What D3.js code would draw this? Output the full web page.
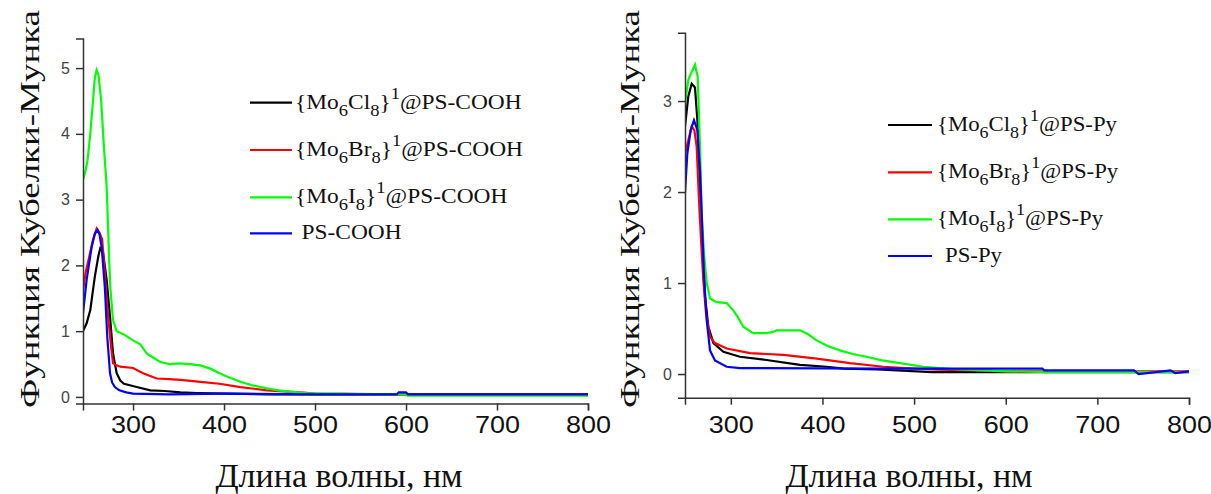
<!DOCTYPE html>
<html>
<head>
<meta charset="utf-8">
<script src="https://cdn.jsdelivr.net/npm/d3@7"></script>
<style>
  html, body { margin: 0; padding: 0; background: #fff; }
  svg { display: block; }
</style>
</head>
<body>
<svg id="chart" width="1211" height="494"></svg>
<script>
// ---------------- DATA ----------------
const xTicksMajor = [300, 400, 500, 600, 700, 800];
const xTicksMinor = [250, 350, 450, 550, 650, 750];
const yTicksLeft = [0, 1, 2, 3, 4, 5];
const yTicksRight = [0, 1, 2, 3];
const xTitle = "Длина волны, нм";
const yTitle = "Функция Кубелки-Мунка";

// Left panel: PS-COOH
const wlCl_COOH = [245, 249, 253, 258, 262, 264, 267, 271, 275, 278, 282, 286, 290, 304, 319, 335, 352, 370, 403, 450, 500, 600, 700, 800];
const valCl_COOH = [1.0, 1.12, 1.32, 1.83, 2.15, 2.26, 2.2, 1.78, 1.17, 0.66, 0.36, 0.25, 0.2, 0.15, 0.1, 0.09, 0.07, 0.06, 0.05, 0.04, 0.04, 0.04, 0.04, 0.04];
const wlBr_COOH = [245, 248, 251, 256, 260, 263, 266, 269, 271, 273, 276, 278, 282, 286, 300, 311, 326, 340, 352, 374, 395, 418, 447, 484, 500, 600, 700, 800];
const valBr_COOH = [1.62, 1.9, 2.08, 2.39, 2.56, 2.5, 2.4, 1.88, 1.5, 1.17, 0.75, 0.51, 0.48, 0.46, 0.44, 0.36, 0.28, 0.27, 0.26, 0.23, 0.2, 0.15, 0.1, 0.07, 0.05, 0.04, 0.04, 0.04];
const wlI_COOH = [245, 248, 250, 253, 256, 258, 260, 262, 265, 268, 271, 274, 275, 278, 282, 290, 300, 308, 315, 322, 330, 340, 352, 362, 374, 385, 395, 405, 418, 430, 447, 460, 472, 490, 510, 530, 560, 600, 602, 650, 700, 750, 800];
const valI_COOH = [3.3, 3.45, 3.6, 4.0, 4.5, 4.85, 4.97, 4.9, 4.5, 3.8, 3.2, 2.0, 1.67, 1.17, 1.0, 0.95, 0.86, 0.8, 0.66, 0.6, 0.53, 0.5, 0.51, 0.5, 0.48, 0.43, 0.36, 0.3, 0.23, 0.18, 0.13, 0.1, 0.08, 0.06, 0.05, 0.05, 0.04, 0.04, 0.02, 0.02, 0.02, 0.02, 0.02];
const wlPS_COOH = [245, 249, 254.5, 258, 261, 263, 265.5, 269, 271.7, 274.7, 277, 280, 285, 292.5, 300, 340, 400, 500, 590, 592, 600, 602, 700, 800];
const valPS_COOH = [1.27, 1.78, 2.28, 2.48, 2.54, 2.48, 2.28, 1.67, 0.91, 0.36, 0.22, 0.15, 0.1, 0.07, 0.05, 0.04, 0.05, 0.04, 0.04, 0.07, 0.07, 0.04, 0.04, 0.04];

// Right panel: PS-Py
const wlCl_Py = [250, 253.6, 257.3, 260.9, 263.5, 266.4, 269.3, 271.8, 275.5, 281, 291.9, 310, 339, 375.5, 404.6, 422.8, 460, 520, 600, 700, 800];
const valCl_Py = [2.72, 3.05, 3.19, 3.15, 2.79, 2.06, 1.32, 0.85, 0.52, 0.34, 0.245, 0.19, 0.154, 0.1, 0.08, 0.06, 0.05, 0.02, 0.02, 0.02, 0.02];
const wlBr_Py = [250, 253.6, 257.3, 260.2, 262.7, 265.6, 267.5, 270, 272.9, 277.3, 282.7, 295.5, 321, 357.4, 393.7, 430, 466.5, 520, 600, 700, 800];
const valBr_Py = [2.42, 2.57, 2.72, 2.68, 2.5, 1.84, 1.47, 1.03, 0.67, 0.41, 0.34, 0.28, 0.23, 0.21, 0.17, 0.12, 0.08, 0.05, 0.03, 0.03, 0.03];
const wlI_Py = [250, 253.6, 257.3, 260.9, 263.8, 266.4, 268.2, 270.7, 273.7, 277.3, 284.6, 295.5, 302.7, 308, 313.6, 324.5, 339, 345, 350, 375.5, 384, 393.7, 405, 419, 433, 448, 465, 484.6, 510, 550, 600, 650, 700, 750, 800];
const valI_Py = [2.97, 3.23, 3.32, 3.40, 3.27, 2.5, 1.77, 1.33, 1.0, 0.83, 0.79, 0.78, 0.70, 0.62, 0.52, 0.45, 0.45, 0.46, 0.48, 0.48, 0.44, 0.37, 0.31, 0.26, 0.22, 0.19, 0.15, 0.12, 0.08, 0.05, 0.03, 0.02, 0.02, 0.02, 0.02];
const wlPS_Py = [250, 252.5, 256.2, 259.8, 263.5, 266.4, 268.5, 270.7, 273.7, 277.3, 282.7, 295.5, 310, 460, 640, 642, 740, 745, 780, 785, 800];
const valPS_Py = [1.99, 2.42, 2.68, 2.79, 2.68, 2.24, 1.69, 1.1, 0.59, 0.26, 0.15, 0.08, 0.065, 0.06, 0.06, 0.04, 0.04, 0.0, 0.04, 0.01, 0.03];

const seriesColors = ["#000000", "#ff0000", "#00ff00", "#0000ff"];
const legendLeft = [
  {pre: "{Mo", s1: "6", mid: "Cl", s2: "8", sup: "1", post: "@PS-COOH"},
  {pre: "{Mo", s1: "6", mid: "Br", s2: "8", sup: "1", post: "@PS-COOH"},
  {pre: "{Mo", s1: "6", mid: "I", s2: "8", sup: "1", post: "@PS-COOH"},
  {plain: "PS-COOH"}
];
const legendRight = [
  {pre: "{Mo", s1: "6", mid: "Cl", s2: "8", sup: "1", post: "@PS-Py"},
  {pre: "{Mo", s1: "6", mid: "Br", s2: "8", sup: "1", post: "@PS-Py"},
  {pre: "{Mo", s1: "6", mid: "I", s2: "8", sup: "1", post: "@PS-Py"},
  {plain: "PS-Py"}
];

// ---------------- DRAW ----------------
const svg = d3.select("#chart");
svg.append("rect").attr("width", 1211).attr("height", 494).attr("fill", "#fff");

function zip(wl, val) { return wl.map((w, i) => [w, val[i]]); }

function panel(opt) {
  const x = d3.scaleLinear().domain(opt.xDomain).range([opt.x0, opt.x1]);
  const y = d3.scaleLinear().domain(opt.yDomain).range([opt.yBottom, opt.yTop]);
  const g = svg.append("g");

  const clipId = "clip" + opt.id;
  svg.append("clipPath").attr("id", clipId).append("rect")
    .attr("x", opt.x0).attr("y", opt.yTop - 5).attr("width", opt.x1 - opt.x0 + 2).attr("height", opt.yBottom - opt.yTop + 5);

  const line = d3.line().x(d => x(d[0])).y(d => y(d[1]));
  opt.series.forEach((s, i) => {
    g.append("path").datum(s).attr("d", line)
      .attr("fill", "none").attr("stroke", seriesColors[i]).attr("stroke-width", 2.2)
      .attr("stroke-linejoin", "miter").attr("clip-path", `url(#${clipId})`);
  });

  const yMinor = d3.range(Math.ceil(opt.yDomain[0] * 5), Math.floor(opt.yDomain[1] * 5) + 1).map(v => v / 5)
    .filter(v => Math.abs(v - Math.round(v)) > 1e-6);
  const ga = g.append("g").attr("transform", `translate(${opt.x0},0)`);
  ga.call(d3.axisLeft(y).tickValues(yMinor).tickSize(4).tickFormat(""));
  ga.call(d3.axisLeft(y).tickValues(opt.yTicks).tickSize(7).tickPadding(6).tickFormat(d3.format("d")));
  ga.selectAll("path").attr("stroke", "#333").attr("stroke-width", 1.5);
  ga.selectAll("line").attr("stroke", "#333").attr("stroke-width", 1.5);
  ga.selectAll("text").attr("font-family", "Liberation Sans, Arial, sans-serif").attr("font-size", 16).attr("fill", "#444");

  const gx = g.append("g").attr("transform", `translate(0,${opt.yBottom})`);
  gx.call(d3.axisBottom(x).tickValues(xTicksMinor).tickSize(4).tickFormat(""));
  gx.call(d3.axisBottom(x).tickValues(xTicksMajor).tickSize(7).tickPadding(opt.xPad).tickFormat(d3.format("d")));
  gx.selectAll("path").attr("stroke", "#333").attr("stroke-width", 1.5);
  gx.selectAll("line").attr("stroke", "#333").attr("stroke-width", 1.5);
  gx.selectAll("text").attr("font-family", "Liberation Sans, Arial, sans-serif").attr("font-size", 24).attr("fill", "#111")
    .attr("textLength", 45).attr("lengthAdjust", "spacingAndGlyphs");

  svg.append("text").attr("x", opt.xTitleX).attr("y", 487).attr("text-anchor", "middle")
    .attr("font-family", "Liberation Serif, Times New Roman, serif").attr("font-size", 34).attr("fill", "#111")
    .text(xTitle);
  svg.append("text").attr("transform", `translate(${opt.yTitleX},${opt.yTitleY}) rotate(-90)`).attr("text-anchor", "middle")
    .attr("font-family", "Liberation Serif, Times New Roman, serif").attr("font-size", 27).attr("fill", "#111")
    .attr("textLength", 398).attr("lengthAdjust", "spacingAndGlyphs")
    .text(yTitle);

  opt.legend.forEach((L, i) => {
    const ly = opt.legendY[i];
    svg.append("line").attr("x1", opt.legX0).attr("x2", opt.legX1).attr("y1", ly).attr("y2", ly)
      .attr("stroke", seriesColors[i]).attr("stroke-width", 2.2);
    const tx = opt.legTextX + (L.plain ? opt.plainOffset : 0);
    const t = svg.append("text").attr("transform", `translate(${tx},${ly + 6}) scale(${opt.legScale},1)`)
      .attr("font-family", "Liberation Serif, Times New Roman, serif").attr("font-size", 21.5).attr("fill", "#111");
    if (L.plain) { t.text(L.plain); return; }
    t.append("tspan").text(L.pre);
    t.append("tspan").attr("font-size", 17).attr("dy", 7).text(L.s1);
    t.append("tspan").attr("dy", -7).text(L.mid);
    t.append("tspan").attr("font-size", 17).attr("dy", 7).text(L.s2);
    t.append("tspan").attr("dy", -7).text("}");
    t.append("tspan").attr("font-size", 17).attr("dy", -10).text(L.sup);
    t.append("tspan").attr("dy", 10).text(L.post);
  });
}

panel({
  id: "L", xDomain: [245, 800], yDomain: [-0.1, 5.45], x0: 83, x1: 588, yBottom: 403.5, yTop: 38.5,
  yTicks: yTicksLeft, xPad: 5,
  series: [zip(wlCl_COOH, valCl_COOH), zip(wlBr_COOH, valBr_COOH), zip(wlI_COOH, valI_COOH), zip(wlPS_COOH, valPS_COOH)],
  xTitleX: 339, yTitleX: 39, yTitleY: 209,
  legend: legendLeft, legendY: [102.7, 150, 197.3, 233.3], legX0: 250, legX1: 292, legTextX: 295, plainOffset: 6.5, legScale: 1.09
});
panel({
  id: "R", xDomain: [250, 800], yDomain: [-0.26, 3.75], x0: 685, x1: 1189, yBottom: 397.7, yTop: 32.8,
  yTicks: yTicksRight, xPad: 11,
  series: [zip(wlCl_Py, valCl_Py), zip(wlBr_Py, valBr_Py), zip(wlI_Py, valI_Py), zip(wlPS_Py, valPS_Py)],
  xTitleX: 909, yTitleX: 639, yTitleY: 209,
  legend: legendRight, legendY: [125, 172.3, 219.3, 256], legX0: 888, legX1: 932, legTextX: 937, plainOffset: 8, legScale: 1.06
});
</script>
</body>
</html>
